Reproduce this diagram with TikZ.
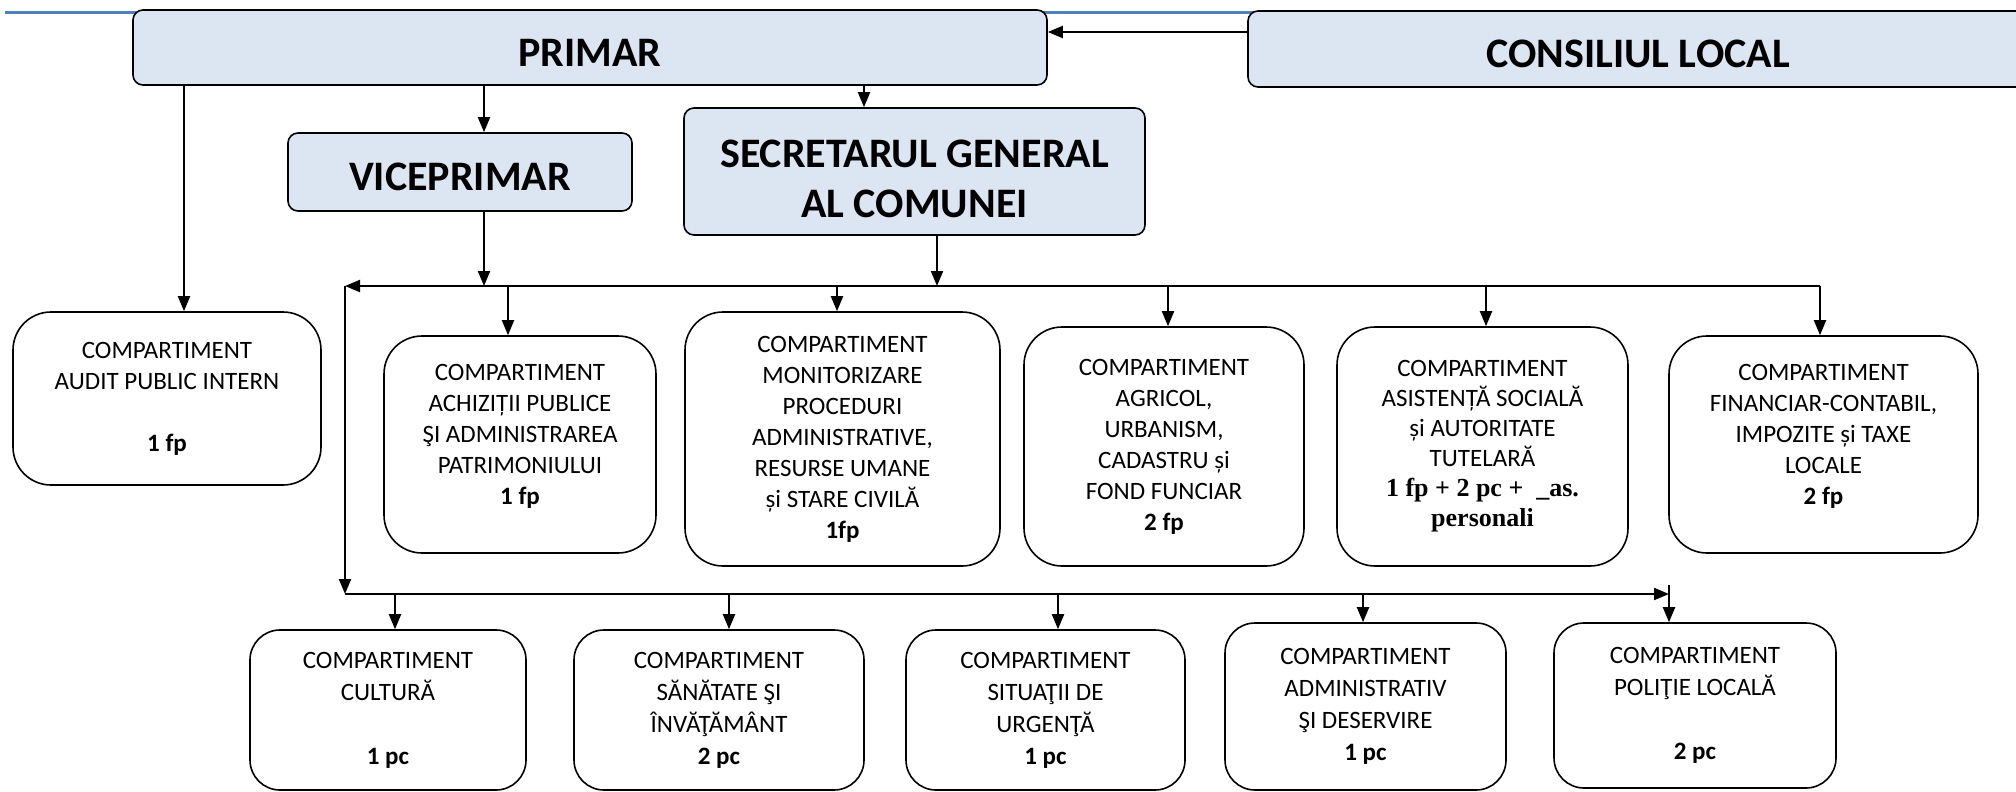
\documentclass[tikz,border=0pt]{standalone}
\usepackage{fontspec}
\setmainfont{Carlito}
\newfontfamily\timesfont{Liberation Serif}
\usepackage{tikz}
\usetikzlibrary{arrows.meta}
\definecolor{headblue}{RGB}{220,230,242}
\definecolor{topline}{RGB}{79,129,189}
\newcommand\tnr{\timesfont\bfseries\fontsize{26}{30}\selectfont}

\begin{document}
\begin{tikzpicture}[x=1pt,y=-1pt,
  head/.style={draw, line width=1.6pt, rounded corners=10pt, fill=headblue,
    font=\bfseries\fontsize{42}{50}\selectfont, align=center, inner sep=0pt,
    execute at begin node={\rule{0pt}{38pt}}},
  comp/.style={draw, line width=1.6pt, rounded corners=38pt, align=center,
    font=\fontsize{25}{31}\selectfont, inner sep=0pt},
  lowcomp/.style={comp, rounded corners=30pt, font=\fontsize{25}{32}\selectfont},
  lift/.style={execute at end node={\rule[-#1]{0pt}{#1}}},
  arr/.style={line width=2pt, -{Triangle[length=15pt,width=12pt]}}]
\useasboundingbox (0,0) rectangle (2016,792);
\clip (0,0) rectangle (2016,792);
\draw [topline, line width=3pt] (5,13) -- (1300,13);
% conducere
\node [head, minimum width=914pt, minimum height=75pt] (primar) at (590,47.5) {PRIMAR};
\node [head, minimum width=780pt, minimum height=76pt] (consiliul) at (1638,49) {CONSILIUL LOCAL};
\node [head, minimum width=344pt, minimum height=78pt, execute at begin node={\rule{0pt}{32pt}}] (vice) at (460,172) {VICEPRIMAR};
\node [head, minimum width=461pt, minimum height=127pt, execute at begin node={}] (secretar) at (914.5,171.5)
  {\rule{0pt}{42pt}SECRETARUL GENERAL\\AL COMUNEI};
% compartimente, randul de sus
\node [comp, minimum width=308pt, minimum height=173pt] (audit) at (167,398.5)
  {COMPARTIMENT\\AUDIT PUBLIC INTERN\\[31pt]\textbf{1 fp}};
\node [comp, lift=21pt, minimum width=272pt, minimum height=217pt] (achizitii) at (520,444.5)
  {COMPARTIMENT\\ACHIZIȚII PUBLICE\\ŞI ADMINISTRAREA\\PATRIMONIULUI\\\textbf{1 fp}};
\node [comp, minimum width=315pt, minimum height=254pt] (monitor) at (842.5,439)
  {COMPARTIMENT\\MONITORIZARE\\PROCEDURI\\ADMINISTRATIVE,\\RESURSE UMANE\\și STARE CIVILĂ\\\textbf{1fp}};
\node [comp, minimum width=280pt, minimum height=239pt] (agricol) at (1164,446.5)
  {COMPARTIMENT\\AGRICOL,\\URBANISM,\\CADASTRU și\\FOND FUNCIAR\\\textbf{2 fp}};
\node [comp, minimum width=291pt, minimum height=239pt, font=\fontsize{25}{30}\selectfont] (asistenta) at (1482.5,446.5)
  {COMPARTIMENT\\ASISTENȚĂ SOCIALĂ\\și AUTORITATE\\TUTELARĂ\\{\tnr 1 fp + 2 pc + \ \_as.}\\{\tnr personali}};
\node [comp, lift=21pt, minimum width=309pt, minimum height=217pt] (financiar) at (1823.5,444.5)
  {COMPARTIMENT\\FINANCIAR-CONTABIL,\\IMPOZITE și TAXE\\LOCALE\\\textbf{2 fp}};
% compartimente, randul de jos
\node [lowcomp, minimum width=276pt, minimum height=160pt] (cultura) at (388,710)
  {COMPARTIMENT\\CULTURĂ\\[32pt]\textbf{1 pc}};
\node [lowcomp, minimum width=290pt, minimum height=160pt] (sanatate) at (719,710)
  {COMPARTIMENT\\SĂNĂTATE ŞI\\ÎNVĂŢĂMÂNT\\\textbf{2 pc}};
\node [lowcomp, minimum width=279pt, minimum height=160pt] (situatii) at (1045.5,710)
  {COMPARTIMENT\\SITUAŢII DE\\URGENŢĂ\\\textbf{1 pc}};
\node [lowcomp, minimum width=281pt, minimum height=167pt] (administrativ) at (1365.5,706.5)
  {COMPARTIMENT\\ADMINISTRATIV\\ŞI DESERVIRE\\\textbf{1 pc}};
\node [lowcomp, minimum width=282pt, minimum height=165pt] (politie) at (1695,705.5)
  {COMPARTIMENT\\POLIŢIE LOCALĂ\\[32pt]\textbf{2 pc}};
% magistrale
\coordinate (busL) at (345,286);
\coordinate (busR) at (1820,286);
\coordinate (lowL) at (345,594);
\coordinate (lowR) at (1669,594);
% legaturi
\draw [arr] ([yshift=17pt]consiliul.west) -- ([yshift=15.5pt]primar.east);
\draw [arr] (primar.south -| 184,0) -- (audit.north -| 184,0);
\draw [arr] (primar.south -| 484,0) -- (vice.north -| 484,0);
\draw [arr] (primar.south -| 864,0) -- (secretar.north -| 864,0);
\draw [arr] (vice.south -| 484,0) -- (busL -| 484,0);
\draw [arr] (secretar.south -| 937,0) -- (busL -| 937,0);
\draw [arr] (busR) -- (busL);
\draw [arr] (busL) -- (lowL);
\draw [arr] (lowL) -- (lowR);
\foreach \n/\x in {achizitii/508, monitor/837, agricol/1168, asistenta/1486, financiar/1820}
  \draw [arr] (busL -| \x,0) -- (\n.north -| \x,0);
\foreach \n/\x in {cultura/395, sanatate/729, situatii/1058, administrativ/1363}
  \draw [arr] (lowL -| \x,0) -- (\n.north -| \x,0);
\draw [arr] ([yshift=9pt]lowR) -- (politie.north -| lowR);
\end{tikzpicture}
\end{document}
